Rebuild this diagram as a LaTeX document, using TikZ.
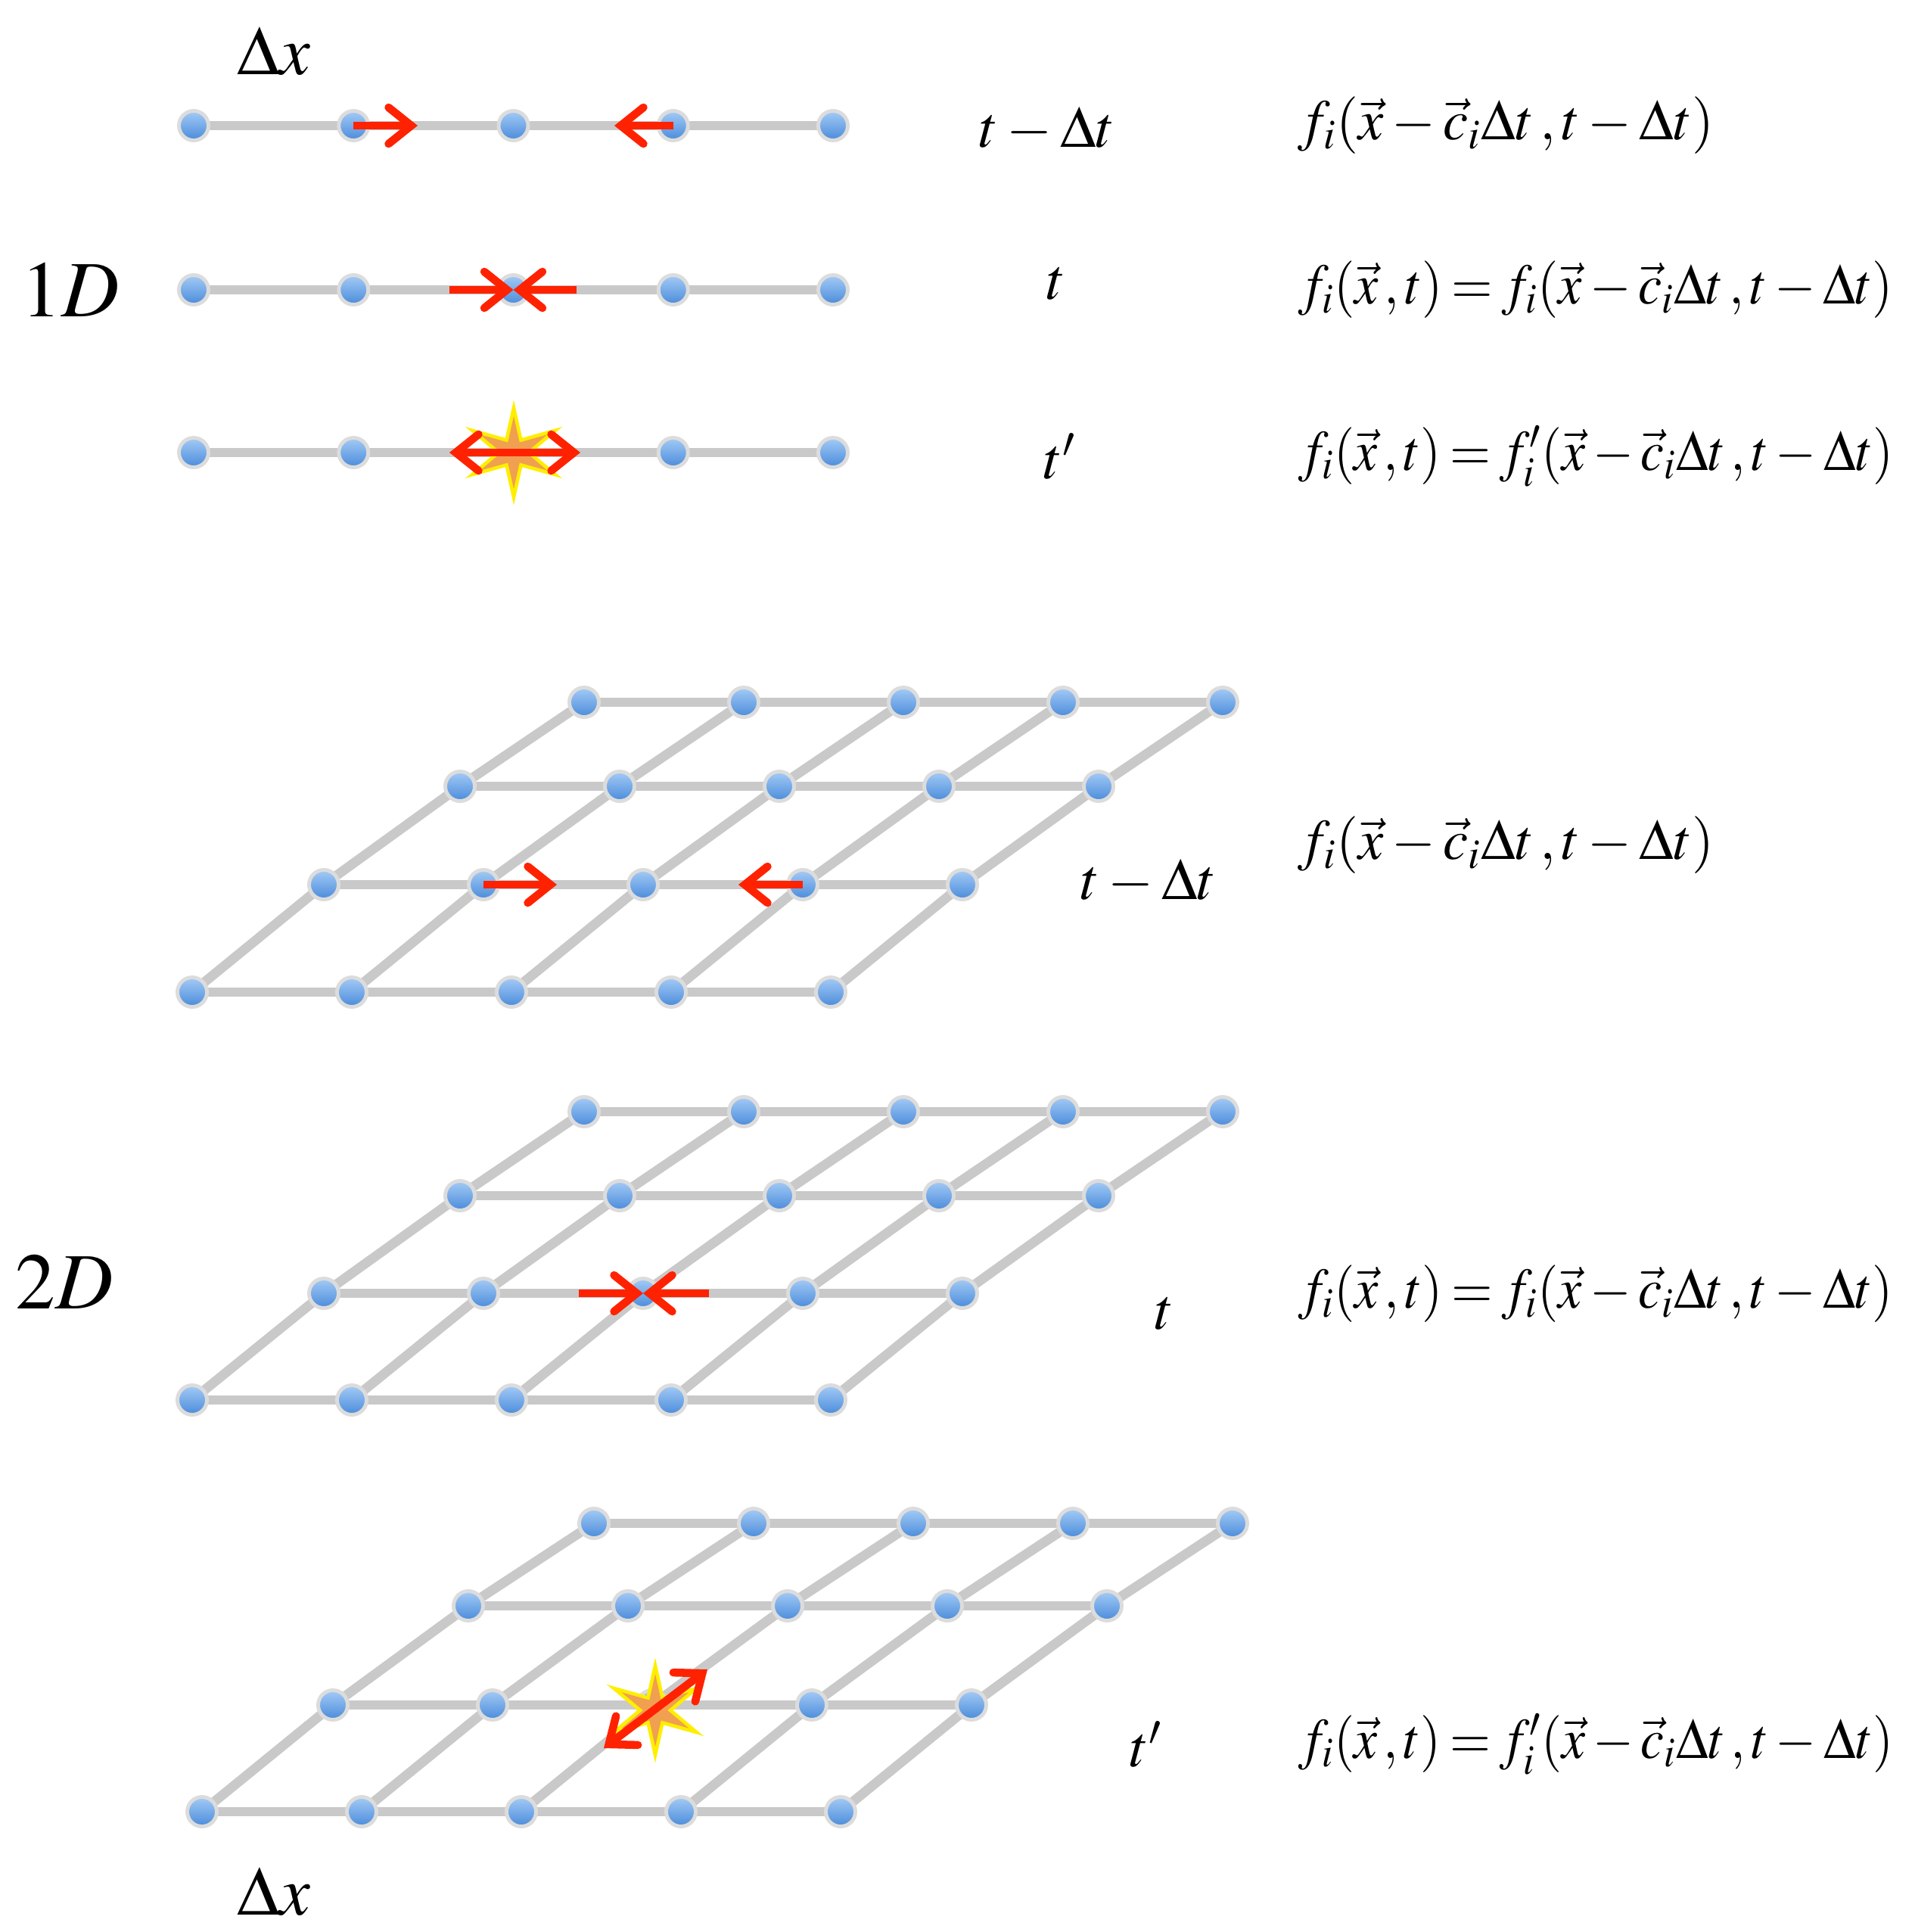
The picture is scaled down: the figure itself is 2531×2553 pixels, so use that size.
\documentclass[tikz,border=0pt]{standalone}
\usepackage{mathptmx}
\usepackage{graphicx}
\usetikzlibrary{arrows.meta,backgrounds}
\definecolor{lgray}{HTML}{C9C9C9}
\definecolor{ntop}{HTML}{A4CBF6}
\definecolor{nbot}{HTML}{4A8BDA}
\definecolor{nborder}{HTML}{DCDCDC}
\definecolor{ared}{HTML}{FF2200}
\definecolor{starfill}{HTML}{F0A050}
\definecolor{staredge}{HTML}{FFEE00}
\newcommand{\shorteq}[1]{\resizebox{5.49cm}{\height}{$#1$}}
\newcommand{\longeq}[1]{\resizebox{7.86cm}{\height}{$\thickmuskip=3mu #1$}}
\begin{document}
\begin{tikzpicture}[x=0.01cm,y=-0.01cm,
  lat/.style={circle,inner sep=0pt,minimum size=0.39cm,top color=ntop,bottom color=nbot,draw=nborder,line width=1.4pt},
  bond/.style={draw=lgray,line width=3.6pt},
  flow/.style={draw=ared,line width=3pt,-{Straight Barb[length=0.3cm,width=0.48cm,line cap=round]}},
  dflow/.style={draw=ared,line width=3pt,{Straight Barb[length=0.3cm,width=0.48cm,line cap=round]}-{Straight Barb[length=0.3cm,width=0.48cm,line cap=round]}},
  burst/.style={fill=starfill,draw=staredge,line width=1.3pt,line join=miter},
  lbl/.style={inner sep=0pt,font=\fontsize{22}{26}\selectfont},
  dxlbl/.style={inner sep=0pt,font=\fontsize{26}{30}\selectfont},
  dimlbl/.style={inner sep=0pt,font=\fontsize{30}{34}\selectfont},
  eq/.style={inner sep=0pt,anchor=west,font=\fontsize{21.5}{26}\selectfont}]
\useasboundingbox (0,0) rectangle (2531,2553);

% 1D rows
\foreach \r/\yo in {1/166,2/383,3/598}
  \foreach \c in {1,...,5}
    \node[lat] (o\r n\c) at ({256+211.25*(\c-1)},\yo) {};
% 2D grids
\foreach \g/\r/\xo/\yo in {1/1/772/928,1/2/608/1039,1/3/428/1169,1/4/254/1311,
                           2/1/772/1469,2/2/608/1580,2/3/428/1709,2/4/254/1850,
                           3/1/785/2013,3/2/619/2122,3/3/440/2253,3/4/267/2394}
  \foreach \c in {1,...,5}
    \node[lat] (g\g r\r c\c) at ({\xo+211*(\c-1)},\yo) {};

\begin{scope}[on background layer]
  \foreach \r in {1,2,3}
    \foreach \c in {1,...,4}{
      \pgfmathtruncatemacro{\cn}{\c+1}
      \draw[bond] (o\r n\c.center) -- (o\r n\cn.center);
    }
  \foreach \g in {1,2,3}{
    \foreach \r in {1,...,4}
      \foreach \c in {1,...,4}{
        \pgfmathtruncatemacro{\cn}{\c+1}
        \draw[bond] (g\g r\r c\c.center) -- (g\g r\r c\cn.center);
      }
    \foreach \r in {1,2,3}
      \foreach \c in {1,...,5}{
        \pgfmathtruncatemacro{\rn}{\r+1}
        \draw[bond] (g\g r\r c\c.center) -- (g\g r\rn c\c.center);
      }
  }
\end{scope}

% stars
\foreach \sx/\sy in {679/598,866/2260}{
  \begin{scope}[shift={(\sx,\sy)}]
    \draw[burst] (90:59) -- (60:19) -- (28:62) -- (0:20) -- (-28:62) -- (-60:19)
      -- (-90:59) -- (-120:19) -- (208:62) -- (180:20) -- (152:62) -- (120:19) -- cycle;
  \end{scope}
}

% arrows 1D
\coordinate (a1) at (552,166);
\coordinate (a2) at (812,166);
\draw[flow] (o1n2.center) -- (a1);
\draw[flow] (o1n4.center) -- (a2);
\coordinate (b1) at (594,383);
\coordinate (b2) at (762,383);
\draw[flow] (b1) -- (o2n3.center);
\draw[flow] (b2) -- (o2n3.center);
\coordinate (s1) at (594,598);
\coordinate (s2) at (767,598);
\draw[dflow] (s1) -- (s2);
% arrows 2D
\coordinate (c1) at (736,1169);
\coordinate (c2) at (976,1169);
\draw[flow] (g1r3c2.center) -- (c1);
\draw[flow] (g1r3c4.center) -- (c2);
\coordinate (d1) at (765,1709);
\coordinate (d2) at (937,1709);
\draw[flow] (d1) -- (g2r3c3.center);
\draw[flow] (d2) -- (g2r3c3.center);
\coordinate (e1) at (798,2310);
\coordinate (e2) at (935,2206);
\draw[dflow] (e1) -- (e2);

% labels
\node[dxlbl] (dxt) at (362,68) {$\Delta x$};
\node[dxlbl] (dxb) at (362,2500) {$\Delta x$};
\node[dimlbl] (oneD) at (93,383) {$1D$};
\node[dimlbl] (twoD) at (85,1694) {$2D$};
\node[lbl] (t1a) at (1384,171) {$t-\Delta t$};
\node[lbl] (t1b) at (1396,375) {$t$};
\node[lbl] (t1c) at (1401,603) {$t'$};
\node[lbl] (t2a) at (1518,1165) {$t-\Delta t$};
\node[lbl] (t2b) at (1539,1736) {$t$};
\node[lbl] (t2c) at (1515,2305) {$t'$};
\node[eq] (f1) at (1715,166) {\shorteq{f_i(\vec{x}-\vec{c}_i\Delta t\,,t-\Delta t)}};
\node[eq] (f2) at (1715,383) {\longeq{f_i(\vec{x}\,,t)=f_i(\vec{x}-\vec{c}_i\Delta t\,,t-\Delta t)}};
\node[eq] (f3) at (1715,603) {\longeq{f_i(\vec{x}\,,t)=f'_i(\vec{x}-\vec{c}_i\Delta t\,,t-\Delta t)}};
\node[eq] (f4) at (1715,1117) {\shorteq{f_i(\vec{x}-\vec{c}_i\Delta t\,,t-\Delta t)}};
\node[eq] (f5) at (1715,1710) {\longeq{f_i(\vec{x}\,,t)=f_i(\vec{x}-\vec{c}_i\Delta t\,,t-\Delta t)}};
\node[eq] (f6) at (1715,2305) {\longeq{f_i(\vec{x}\,,t)=f'_i(\vec{x}-\vec{c}_i\Delta t\,,t-\Delta t)}};
\end{tikzpicture}
\end{document}
